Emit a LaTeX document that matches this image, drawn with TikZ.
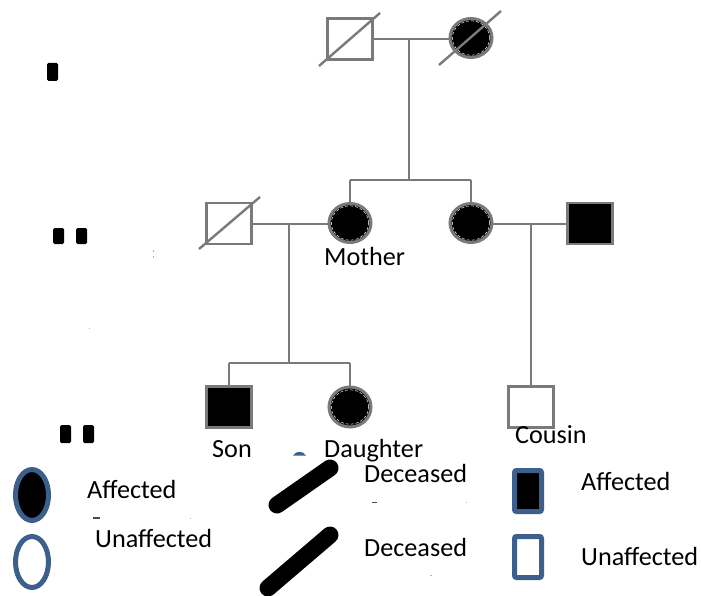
\documentclass[tikz,border=0pt]{standalone}
\usepackage{fontspec}
\setmainfont{Carlito}
\usetikzlibrary{shapes.geometric}
\definecolor{lgray}{HTML}{7A7A7A}
\definecolor{lblue}{HTML}{3D5F8B}
\tikzset{
  conn/.style={draw=lgray,line width=2.6pt},
  male/.style={rectangle,draw=lgray,line width=2.6pt,minimum width=45pt,minimum height=41pt,inner sep=0pt,outer sep=0pt},
  female/.style={ellipse,draw=lgray,line width=3pt,fill=black,minimum width=42pt,minimum height=39pt,inner sep=0pt,outer sep=0pt},
  slash/.style={draw=lgray,line width=2.4pt},
  lbl/.style={anchor=base west,inner sep=0pt,font=\fontsize{26.2}{30}\selectfont},
  legl/.style={draw=lblue,line width=5pt},
  genmark/.style={fill=black,rounded corners=1.5pt},
  speck/.style={draw=gray!60,line width=0.8pt}
}
\newcommand{\innerdash}[1]{\draw[white,line width=0.5pt,dash pattern=on 3pt off 2pt] (#1.center) ellipse [x radius=18.6pt,y radius=17.2pt];}
\begin{document}
\begin{tikzpicture}[x=1pt,y=-1pt]
\useasboundingbox (0,0) rectangle (701,596);
\fill[white] (0,0) rectangle (701,596);

% generation marks
\fill[genmark] (47,63) rectangle (58,81);
\fill[genmark] (53,228) rectangle (64,244);
\fill[genmark] (76,228) rectangle (87,244);
\fill[genmark] (60,425) rectangle (71,443);
\fill[genmark] (83,425) rectangle (94,443);

% Generation I
\node[male,fill=white] (g1m) at (350,39) {};
\node[female] (g1f) at (471,38) {};
\innerdash{g1f}
% Generation II
\node[male,fill=white] (h1) at (229,223.5) {};
\node[female] (mo) at (350,223) {};
\innerdash{mo}
\node[female] (si) at (471,223) {};
\innerdash{si}
\node[male,fill=black] (h2) at (590,223.5) {};
% Generation III
\node[male,fill=black] (son) at (229,407) {};
\node[female,minimum height=40pt] (da) at (350,407) {};
\innerdash{da}
\node[male,fill=white] (co) at (531,407) {};

\coordinate (m1) at (409,39);
\coordinate (s1) at (409,180);
\coordinate (s1l) at (350,180);
\coordinate (s1r) at (471,180);
\coordinate (m2) at (289,224);
\coordinate (s2) at (289,363);
\coordinate (s2l) at (229,363);
\coordinate (s2r) at (350,363);
\coordinate (m3) at (531,224);

\draw[conn] (g1m.east |- m1) -- (g1f.west |- m1);
\draw[conn] (m1) -- (s1);
\draw[conn] (s1l) -- (s1r);
\draw[conn] (s1l) -- (mo.north);
\draw[conn] (s1r) -- (si.north);
\draw[conn] (h1.east |- m2) -- (mo.west |- m2);
\draw[conn] (si.east |- m3) -- (h2.west |- m3);
\draw[conn] (m2) -- (s2);
\draw[conn] (s2l) -- (s2r);
\draw[conn] (s2l) -- (son.north);
\draw[conn] (s2r) -- (da.north);
\draw[conn] (m3) -- (co.north);

% deceased slashes
\draw[slash] (319,66) -- (380,13);
\draw[slash] (439,65) -- (501,11);
\draw[slash] (199,249) -- (260,197);

% labels
\node[lbl] (tmo) at (324,265) {Mother};
\node[lbl] (tson) at (212,457) {Son};
\node[lbl] (tda) at (324,457) {Daughter};
\node[lbl] (tco) at (515,443) {Cousin};

% legend
\node[ellipse,legl,fill=black,minimum width=33pt,minimum height=51pt,inner sep=0pt] (la) at (32,495) {};
\node[ellipse,legl,fill=white,minimum width=33pt,minimum height=51pt,inner sep=0pt] (lu) at (32,562) {};
\node[lbl] (tla) at (87,498) {Affected};
\node[lbl] (tlu) at (95,547) {Unaffected};
\fill[lblue] (293,455.5) .. controls (296,450.5) and (303,450.5) .. (306,455.5) -- cycle;
\draw[black,line width=17pt,line cap=round] (277,505) -- (330,468);
\draw[black,line width=17pt,line cap=round] (268,588) -- (330,535);
\node[lbl] (td1) at (364,482) {Deceased};
\node[lbl] (td2) at (364,556) {Deceased};
\node[rectangle,legl,fill=black,rounded corners=2pt,minimum width=27pt,minimum height=41pt,inner sep=0pt] (sa) at (528,491) {};
\node[rectangle,legl,fill=white,rounded corners=2pt,minimum width=27pt,minimum height=41pt,inner sep=0pt] (su) at (528,557) {};
\node[lbl] (tsa) at (581,490) {Affected};
\node[lbl] (tsu) at (581,565) {Unaffected};

% small specks
\draw[speck] (153,250) -- (153,252);
\draw[speck] (153,256) -- (153,258);
\draw[speck] (89,328) -- (89,329);
\draw[black!70,line width=1.5pt] (93,518) -- (100,518);
\draw[speck] (190,518) -- (191,518);
\draw[black!70,line width=1pt] (372,502) -- (377,502);
\draw[speck] (466,502) -- (467,502);
\draw[speck] (430,575) -- (432,575);
\end{tikzpicture}
\end{document}
